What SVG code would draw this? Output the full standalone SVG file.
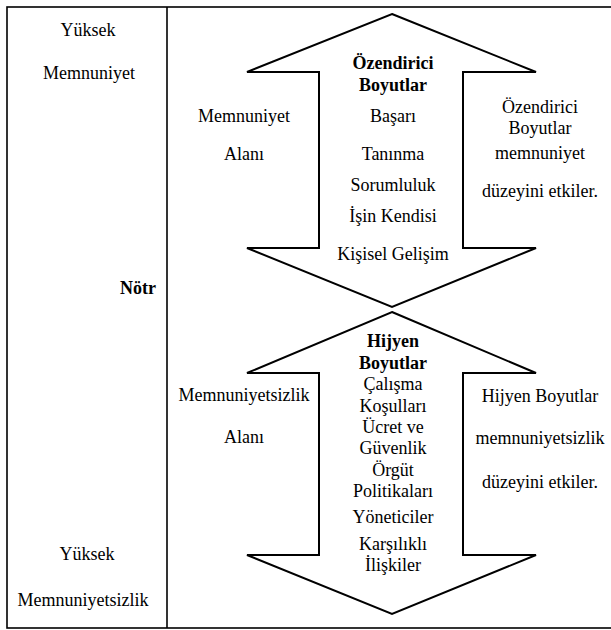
<svg xmlns="http://www.w3.org/2000/svg" width="611" height="630" viewBox="0 0 611 630">
<style>
text{font-family:'Liberation Serif','Times New Roman',Times,serif;font-size:18px;fill:#000;text-anchor:middle}
.b{font-weight:bold}
.r{text-anchor:end}
.arrow{fill:#fff;stroke:#000;stroke-width:2;stroke-linejoin:miter}
.frame{fill:none;stroke:#000;stroke-width:1.6}
</style>
<rect width="611" height="630" fill="#fff"/>
<g id="frame">
<rect class="frame" x="7" y="7" width="610" height="621"/>
<line class="frame" x1="167" y1="7" x2="167" y2="628"/>
</g>
<g id="scale">
<text x="88" y="36">Yüksek</text>
<text x="89" y="79">Memnuniyet</text>
<text class="b r" x="156" y="294">Nötr</text>
<text x="87" y="560">Yüksek</text>
<text x="83" y="606">Memnuniyetsizlik</text>
</g>
<g id="connectors"></g>
<g id="motivators">
<polygon class="arrow" points="392,14 536,72 463,72 463,248 536,248 392,307 247,248 319,248 319,72 247,72"/>
<text class="b" x="393" y="69">Özendirici</text>
<text class="b" x="393" y="91">Boyutlar</text>
<text x="393" y="122">Başarı</text>
<text x="393" y="160">Tanınma</text>
<text x="393" y="191">Sorumluluk</text>
<text x="393" y="222">İşin Kendisi</text>
<text x="393" y="260">Kişisel Gelişim</text>
</g>
<g id="hygiene">
<polygon class="arrow" points="392,312 536,373 463,373 463,555 536,555 392,614 247,555 319,555 319,373 247,373"/>
<text class="b" x="393" y="347">Hijyen</text>
<text class="b" x="393" y="369">Boyutlar</text>
<text x="393" y="390">Çalışma</text>
<text x="393" y="412">Koşulları</text>
<text x="393" y="433">Ücret ve</text>
<text x="393" y="454">Güvenlik</text>
<text x="393" y="476">Örgüt</text>
<text x="393" y="497">Politikaları</text>
<text x="393" y="523">Yöneticiler</text>
<text x="393" y="550">Karşılıklı</text>
<text x="393" y="571">İlişkiler</text>
</g>
<g id="satisfaction-area">
<text x="244" y="122">Memnuniyet</text>
<text x="244" y="160">Alanı</text>
</g>
<g id="motivators-note">
<text x="540" y="113">Özendirici</text>
<text x="540" y="134">Boyutlar</text>
<text x="540" y="159">memnuniyet</text>
<text x="540" y="197">düzeyini etkiler.</text>
</g>
<g id="dissatisfaction-area">
<text x="244" y="401">Memnuniyetsizlik</text>
<text x="244" y="443">Alanı</text>
</g>
<g id="hygiene-note">
<text x="540" y="402">Hijyen Boyutlar</text>
<text x="540" y="444">memnuniyetsizlik</text>
<text x="540" y="488">düzeyini etkiler.</text>
</g>
</svg>
